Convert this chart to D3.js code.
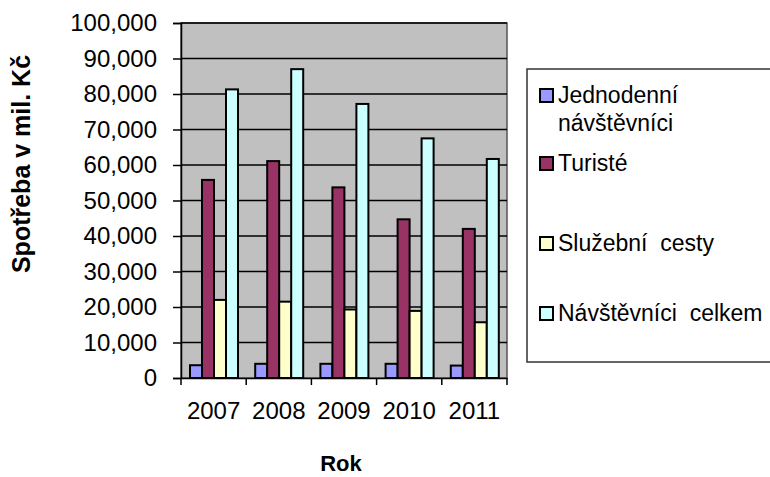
<!DOCTYPE html>
<html>
<head>
<meta charset="utf-8">
<script src="https://cdn.jsdelivr.net/npm/d3@7"></script>
<style>
  body { margin: 0; background: #fff; }
  text { font-family: Arial, "Liberation Sans", sans-serif; fill: #000; }
</style>
</head>
<body>
<script>
var WIDTH = 770;
var HEIGHT = 477;

// data (mil. Kč)
var years = ["2007", "2008", "2009", "2010", "2011"];
var seriesNames = ["Jednodenní návštěvníci", "Turisté", "Služební cesty", "Návštěvníci celkem"];
var jednodenni = [3600, 4000, 4000, 4000, 3500];
var turiste = [55800, 61100, 53700, 44700, 42000];
var sluzebni = [22000, 21500, 19300, 18900, 15700];
var celkem = [81300, 87000, 77200, 67500, 61700];
var yTicks = [0, 10000, 20000, 30000, 40000, 50000, 60000, 70000, 80000, 90000, 100000];
var colors = ["#9999FF", "#993366", "#FFFFCC", "#CCFFFF"];

var allSeries = [jednodenni, turiste, sluzebni, celkem];

var plot = { left: 181, right: 507, top: 23, bottom: 378 };

var svg = d3.select("body")
  .append("svg")
  .attr("width", WIDTH)
  .attr("height", HEIGHT);

var x0 = d3.scaleBand()
  .domain(years)
  .range([plot.left, plot.right]);

var x1 = d3.scaleBand()
  .domain(seriesNames)
  .range([9, 57]);

var y = d3.scaleLinear()
  .domain([0, 100000])
  .range([plot.bottom, plot.top]);

// plot background
svg.append("rect")
  .attr("x", plot.left)
  .attr("y", plot.top)
  .attr("width", plot.right - plot.left)
  .attr("height", plot.bottom - plot.top)
  .attr("fill", "#C0C0C0")
  .attr("stroke", "#555")
  .attr("stroke-width", 1.5);

// gridlines
svg.selectAll("line.grid")
  .data(yTicks.slice(1))
  .enter()
  .append("line")
  .attr("class", "grid")
  .attr("x1", plot.left)
  .attr("x2", plot.right)
  .attr("y1", function (d) { return y(d); })
  .attr("y2", function (d) { return y(d); })
  .attr("stroke", "#000")
  .attr("stroke-width", 1.5);

// bars
var rows = [];
for (let i = 0; i < years.length; i++) {
  for (let s = 0; s < seriesNames.length; s++) {
    rows.push({ year: years[i], name: seriesNames[s], value: allSeries[s][i], color: colors[s] });
  }
}

svg.selectAll("rect.bar")
  .data(rows)
  .enter()
  .append("rect")
  .attr("class", "bar")
  .attr("x", function (d) { return x0(d.year) + x1(d.name); })
  .attr("y", function (d) { return y(d.value); })
  .attr("width", x1.bandwidth())
  .attr("height", function (d) { return y(0) - y(d.value); })
  .attr("fill", function (d) { return d.color; })
  .attr("stroke", "#000")
  .attr("stroke-width", 2);

// y axis
var yAxis = svg.append("g")
  .attr("transform", "translate(" + plot.left + ",0)")
  .call(d3.axisLeft(y).tickValues(yTicks).tickFormat(d3.format(",")).tickSize(8).tickPadding(16));
yAxis.select(".domain").attr("stroke", "#000").attr("stroke-width", 1.5);
yAxis.selectAll(".tick line").attr("stroke", "#000").attr("stroke-width", 1.5);
yAxis.selectAll(".tick text")
  .style("font-size", "24px")
  .attr("fill", "#111");

// x axis
var xAxis = svg.append("g")
  .attr("transform", "translate(0," + plot.bottom + ")")
  .call(d3.axisBottom(x0).tickSize(0).tickPadding(24));
xAxis.select(".domain").attr("stroke", "#000").attr("stroke-width", 1.5);
xAxis.selectAll(".tick text")
  .attr("dy", "0.71em")
  .style("font-size", "24px")
  .attr("fill", "#111");

// x tick marks at group boundaries
var bounds = years.map(function (d) { return x0(d); }).concat([plot.right]);
svg.selectAll("line.xtick")
  .data(bounds)
  .enter()
  .append("line")
  .attr("class", "xtick")
  .attr("x1", function (d) { return d; })
  .attr("x2", function (d) { return d; })
  .attr("y1", plot.bottom)
  .attr("y2", plot.bottom + 7)
  .attr("stroke", "#000")
  .attr("stroke-width", 1.5);

// axis titles
svg.append("text")
  .attr("transform", "translate(30,164) rotate(-90)")
  .attr("text-anchor", "middle")
  .style("font-size", "25px")
  .style("font-weight", "bold")
  .text("Spotřeba v mil. Kč");

svg.append("text")
  .attr("x", 341)
  .attr("y", 471)
  .attr("text-anchor", "middle")
  .style("font-size", "22px")
  .style("font-weight", "bold")
  .text("Rok");

// legend
svg.append("rect")
  .attr("x", 527)
  .attr("y", 69)
  .attr("width", 260)
  .attr("height", 293)
  .attr("fill", "#fff")
  .attr("stroke", "#333")
  .attr("stroke-width", 1.5);

var legendItems = [
  { lines: ["Jednodenní", "návštěvníci"], y: 95 },
  { lines: ["Turisté"], y: 163 },
  { lines: ["Služební  cesty"], y: 243 },
  { lines: ["Návštěvníci  celkem"], y: 313 }
];

var leg = svg.selectAll("g.legend")
  .data(legendItems)
  .enter()
  .append("g")
  .attr("class", "legend");

leg.append("rect")
  .attr("x", 540)
  .attr("y", function (d) { return d.y - 6; })
  .attr("width", 13)
  .attr("height", 13)
  .attr("fill", function (d, i) { return colors[i]; })
  .attr("stroke", "#000")
  .attr("stroke-width", 2);

leg.each(function (d) {
  var t = d3.select(this).append("text")
    .attr("x", 558)
    .attr("y", d.y + 8)
    .attr("xml:space", "preserve")
    .style("font-size", "23px")
    .attr("fill", "#111");
  d.lines.forEach(function (ln, k) {
    t.append("tspan")
      .attr("x", 558)
      .attr("dy", k === 0 ? 0 : 28)
      .text(ln);
  });
});
</script>
</body>
</html>
